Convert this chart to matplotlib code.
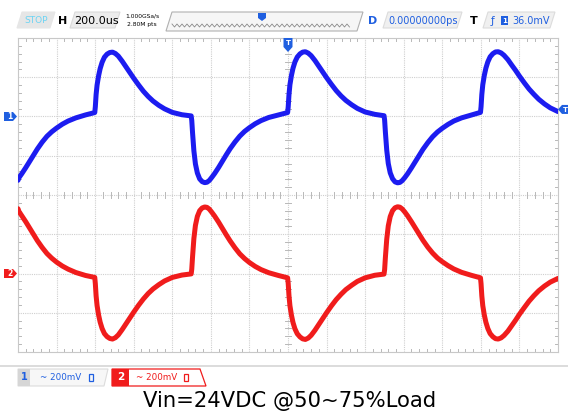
import numpy as np
import matplotlib
matplotlib.use("Agg")
import matplotlib.pyplot as plt
from matplotlib.patches import Polygon, Rectangle

# scope capture, 200us/div, 200mV/div, both channels
t_us = [-1400, -1395, -1380, -1360, -1340, -1320, -1300, -1275, -1250, -1225, -1200, -1170, -1140, -1100, -1050, -1002,
        -999, -995, -990, -982, -974, -964, -952, -938, -924, -910, -895, -880, -860, -840, -820, -800,
        -775, -750, -725, -700, -670, -640, -600, -550, -502,
        -499, -495, -488, -480, -470, -458, -445, -432, -420, -408, -395, -380, -360, -340, -320, -300,
        -275, -250, -225, -200, -170, -140, -100, -50, -2,
        1, 5, 10, 18, 26, 36, 48, 62, 76, 90, 105, 120, 140, 160, 180, 200,
        225, 250, 275, 300, 330, 360, 400, 450, 498,
        501, 505, 512, 520, 530, 542, 555, 568, 580, 592, 605, 620, 640, 660, 680, 700,
        725, 750, 775, 800, 830, 860, 900, 950, 998,
        1001, 1005, 1010, 1018, 1026, 1036, 1048, 1062, 1076, 1090, 1105, 1120, 1140, 1160, 1180, 1200,
        1225, 1250, 1275, 1300, 1330, 1360, 1400]

ch1_mv = [-325, -312, -291, -261, -229, -197, -166, -131, -101, -78, -59, -39, -23, -7, 8, 20,
          50, 112, 160, 208, 244, 276, 302, 318, 326, 328, 321, 308, 282, 253, 224, 195,
          161, 129, 102, 79, 57, 39, 21, 9, 3,
          -20, -82, -175, -242, -288, -318, -332, -337, -335, -326, -310, -290, -260, -227, -195, -164,
          -130, -100, -76, -57, -37, -21, -5, 8, 20,
          48, 110, 162, 210, 246, 278, 303, 319, 328, 330, 323, 310, 285, 256, 227, 198,
          164, 132, 105, 82, 60, 41, 23, 11, 4,
          -18, -80, -172, -240, -287, -317, -333, -338, -336, -327, -312, -292, -262, -230, -198, -167,
          -133, -103, -79, -60, -40, -23, -7, 7, 21,
          50, 112, 162, 210, 246, 278, 304, 320, 329, 330, 324, 312, 290, 262, 235, 206,
          172, 140, 113, 88, 64, 44, 25]

ch2_mv = [330, 316, 294, 264, 232, 200, 168, 133, 102, 78, 58, 38, 22, 5, -10, -20,
          -52, -114, -163, -212, -248, -280, -306, -322, -331, -334, -327, -313, -286, -256, -226, -197,
          -162, -130, -102, -79, -57, -38, -20, -8, -2,
          22, 84, 178, 245, 291, 320, 334, 339, 337, 328, 312, 292, 262, 229, 197, 166,
          131, 100, 76, 56, 36, 20, 4, -10, -22,
          -50, -112, -164, -213, -250, -282, -307, -323, -333, -336, -329, -315, -289, -259, -229, -200,
          -165, -133, -106, -82, -60, -40, -22, -9, -3,
          20, 82, 175, 243, 290, 320, 335, 340, 338, 329, 314, 294, 264, 232, 200, 169,
          134, 104, 79, 60, 40, 23, 6, -9, -22,
          -52, -114, -164, -212, -248, -280, -306, -322, -332, -334, -328, -316, -294, -266, -238, -208,
          -174, -141, -113, -88, -64, -44, -25]

us_per_div = 200
mv_per_div = 200
ch1_offset = 2.0   # divisions
ch2_offset = -2.0
trig_level_mv = 36

caption = "Vin=24VDC @50~75%Load"

W, H = 568, 412
BLUE = "#1c1cf0"
RED = "#f01c1c"
TAGBLUE = "#1f5fe0"

fig = plt.figure(figsize=(W / 100, H / 100), dpi=100)
fig.patch.set_facecolor("white")

# screen area in pixels
sx0, sx1, sy0, sy1 = 18, 558, 38, 352
scr = fig.add_axes([sx0 / W, 1 - sy1 / H, (sx1 - sx0) / W, (sy1 - sy0) / H])
scr.set_xlim(-7 * us_per_div, 7 * us_per_div)
scr.set_ylim(-4, 4)
for s in scr.spines.values():
    s.set_color("#c8c8c8")
    s.set_linewidth(0.8)
scr.set_xticks([])
scr.set_yticks([])

gc = "#cfcfcf"
for k in range(-6, 7):
    scr.axvline(k * us_per_div, color=gc, lw=0.8, ls=(0, (1, 1)), zorder=1)
for k in range(-3, 4):
    scr.axhline(k, color=gc, lw=0.8, ls=(0, (1, 1)), zorder=1)

# minor ticks along borders and centre lines
tc = "#b8b8b8"
for i in range(-35, 36):
    if i % 5:
        x = i * us_per_div / 5
        scr.plot([x, x], [4, 3.92], color=tc, lw=0.7, zorder=1)
        scr.plot([x, x], [-4, -3.92], color=tc, lw=0.7, zorder=1)
        scr.plot([x, x], [-0.08, 0.08], color=tc, lw=0.7, zorder=1)
for i in range(-20, 21):
    if i % 5:
        y = i / 5
        scr.plot([-1400, -1385], [y, y], color=tc, lw=0.7, zorder=1)
        scr.plot([1400, 1385], [y, y], color=tc, lw=0.7, zorder=1)
        scr.plot([-15, 15], [y, y], color=tc, lw=0.7, zorder=1)

t = np.array(t_us)
scr.plot(t, np.array(ch1_mv) / mv_per_div + ch1_offset, color=BLUE, lw=3.6,
         solid_joinstyle="round", solid_capstyle="round", zorder=3)
scr.plot(t, np.array(ch2_mv) / mv_per_div + ch2_offset, color=RED, lw=3.6,
         solid_joinstyle="round", solid_capstyle="round", zorder=3)

# overlay in pixel coords for the scope chrome
ui = fig.add_axes([0, 0, 1, 1], zorder=5)
ui.set_xlim(0, W)
ui.set_ylim(H, 0)
ui.axis("off")
ui.patch.set_alpha(0)


def tab(x0, x1, y0, y1, fc="#ececec", ec="#cfcfcf", slant=5):
    ui.add_patch(Polygon([(x0, y1), (x0 + slant, y0), (x1, y0), (x1 - slant, y1)],
                         closed=True, fc=fc, ec=ec, lw=0.8))


# top bar
tab(17, 55, 12, 28, fc="#e6e6e6", ec="#e6e6e6")
ui.text(36, 20.5, "STOP", color="#6cd4f4", fontsize=6.5, ha="center", va="center")
ui.text(63, 20.5, "H", color="black", fontsize=8, fontweight="bold", ha="center", va="center")
tab(70, 120, 12, 28, fc="#ececec", ec="#dadada")
ui.text(96, 20.5, "200.0us", color="black", fontsize=8, ha="center", va="center")
ui.text(142, 15.5, "1.000GSa/s", fontsize=4.3, ha="center", va="center")
ui.text(142, 24.5, "2.80M pts", fontsize=4.3, ha="center", va="center")
ui.add_patch(Polygon([(166, 31), (172, 12), (363, 12), (357, 31)], closed=True,
                     fc="#f6f6f6", ec="#b0b0b0", lw=0.8))
zx = np.arange(172, 352, 2.5)
zy = np.where(np.arange(len(zx)) % 2 == 0, 24, 27)
ui.plot(zx, zy, color="#8a8a8a", lw=0.6)
ui.add_patch(Polygon([(258, 13), (266, 13), (266, 18), (262, 21), (258, 18)],
                     closed=True, fc=TAGBLUE, ec="none"))
ui.text(373, 20.5, "D", color=TAGBLUE, fontsize=8, fontweight="bold", ha="center", va="center")
tab(383, 462, 12, 28, fc="#f0f0f0", ec="#dcdcdc")
ui.text(423, 20.5, "0.00000000ps", color=TAGBLUE, fontsize=7, ha="center", va="center")
ui.text(474, 20.5, "T", color="black", fontsize=8, fontweight="bold", ha="center", va="center")
tab(483, 555, 12, 28, fc="#f0f0f0", ec="#dcdcdc")
ui.text(493, 20.5, "\u0192", color=TAGBLUE, fontsize=7.5, ha="center", va="center")
ui.add_patch(Rectangle((501, 16), 7, 9, fc=TAGBLUE, ec="none"))
ui.text(504.5, 20.5, "1", color="white", fontsize=5, fontweight="bold", ha="center", va="center")
ui.text(531, 20.5, "36.0mV", color=TAGBLUE, fontsize=7, ha="center", va="center")


def side_tag(y, color, label):
    ui.add_patch(Polygon([(4, y - 4.5), (13, y - 4.5), (17, y), (13, y + 4.5), (4, y + 4.5)],
                         closed=True, fc=color, ec="none"))
    ui.text(9.5, y + 0.3, label, color="white", fontsize=5.5, fontweight="bold",
            ha="center", va="center")


def div_to_py(d):
    return sy0 + (4 - d) * (sy1 - sy0) / 8


side_tag(div_to_py(ch1_offset), TAGBLUE, "1")
side_tag(div_to_py(ch2_offset), RED, "2")

# trigger position marker (top) and trigger level marker (right)
ui.add_patch(Polygon([(283.5, 38), (292.5, 38), (292.5, 47), (288, 52), (283.5, 47)],
                     closed=True, fc=TAGBLUE, ec="none"))
ui.text(288, 43, "T", color="white", fontsize=5, fontweight="bold", ha="center", va="center")
ty = div_to_py(ch1_offset + trig_level_mv / mv_per_div)
ui.add_patch(Polygon([(558, ty), (562, ty - 4.5), (568, ty - 4.5), (568, ty + 4.5), (562, ty + 4.5)],
                     closed=True, fc=TAGBLUE, ec="none"))
ui.text(565, ty + 0.3, "T", color="white", fontsize=5, fontweight="bold", ha="center", va="center")

# bottom bar
ui.plot([0, W], [365.5, 365.5], color="#d6d6d6", lw=1.2)
ui.add_patch(Polygon([(18, 369), (108, 369), (104, 386), (18, 386)], closed=True,
                     fc="#f7f7f7", ec="#dcdcdc", lw=0.8))
ui.add_patch(Rectangle((18, 369), 12, 17, fc="#d6d6d6", ec="none"))
ui.text(24, 377.5, "1", color=TAGBLUE, fontsize=7, fontweight="bold", ha="center", va="center")
ui.text(61, 377.5, "~ 200mV", color=TAGBLUE, fontsize=6.3, ha="center", va="center")
ui.add_patch(Rectangle((89, 374), 4, 7, fc="none", ec=TAGBLUE, lw=0.9))
ui.add_patch(Polygon([(112, 369), (200, 369), (206, 386), (112, 386)], closed=True,
                     fc="white", ec=RED, lw=0.9))
ui.add_patch(Rectangle((112, 369), 17, 17, fc=RED, ec="none"))
ui.text(120.5, 377.5, "2", color="white", fontsize=7.5, fontweight="bold", ha="center", va="center")
ui.text(157, 377.5, "~ 200mV", color=RED, fontsize=6.3, ha="center", va="center")
ui.add_patch(Rectangle((184, 374), 4, 7, fc="none", ec=RED, lw=0.9))

ui.text(290, 401, caption, color="black", fontsize=15.2, ha="center", va="center",
        family="DejaVu Sans")

fig.savefig("out.png", dpi=100, facecolor="white")
